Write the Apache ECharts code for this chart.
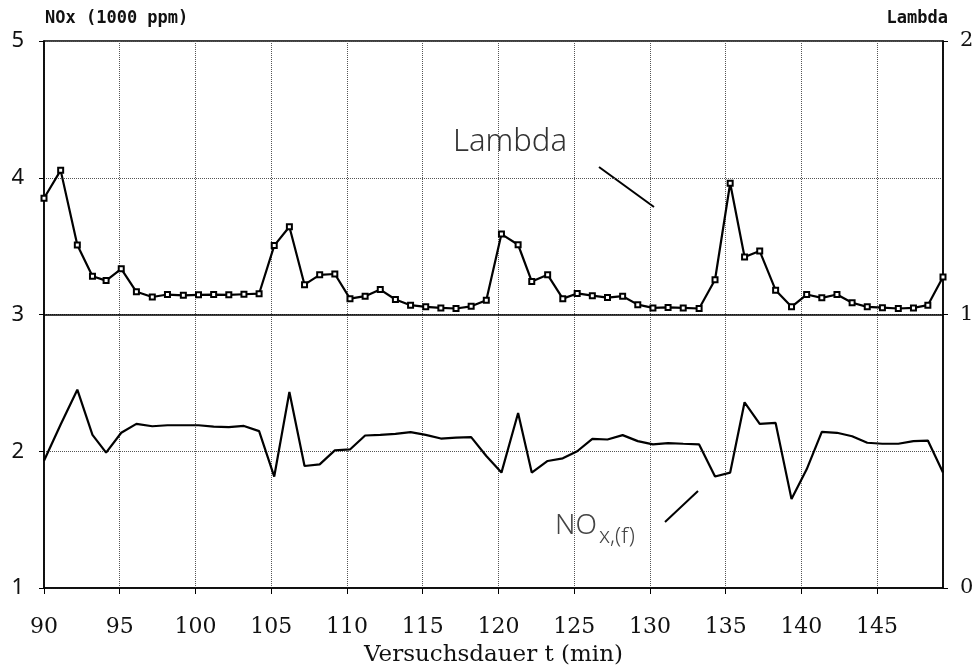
<!DOCTYPE html>
<html>
  <head>
    <meta charset="utf-8" />
    <title>NOx und Lambda</title>
    <style>
      body { margin: 0; background: #fff; }
    </style>
  </head>
  <body>
    <div id="main" style="width: 978px; height: 672px"></div>
    <script src="https://cdn.jsdelivr.net/npm/echarts@6/dist/echarts.min.js"></script>
    <script>
      // Versuchsdauer in min (gemeinsame Messzeitpunkte)
      var zeit = [90, 91.1, 92.2, 93.2, 94.1, 95.1, 96.1, 97.15, 98.15, 99.2,
        100.2, 101.2, 102.2, 103.2, 104.2, 105.2, 106.2, 107.2, 108.2, 109.2,
        110.2, 111.2, 112.2, 113.2, 114.2, 115.2, 116.2, 117.2, 118.2, 119.2,
        120.2, 121.3, 122.2, 123.25, 124.25, 125.2, 126.2, 127.2, 128.2, 129.2,
        130.2, 131.2, 132.2, 133.25, 134.3, 135.3, 136.25, 137.25, 138.3, 139.35,
        140.35, 141.35, 142.35, 143.35, 144.35, 145.35, 146.4, 147.4, 148.35, 149.35];
      // Lambda (rechte Achse)
      var lambda = [1.425, 1.527, 1.254, 1.14, 1.124, 1.167, 1.083, 1.064, 1.073, 1.07,
        1.072, 1.073, 1.072, 1.074, 1.076, 1.252, 1.321, 1.109, 1.145, 1.148,
        1.058, 1.067, 1.091, 1.055, 1.034, 1.028, 1.024, 1.022, 1.03, 1.052,
        1.294, 1.255, 1.121, 1.145, 1.058, 1.077, 1.069, 1.062, 1.067, 1.036,
        1.024, 1.026, 1.024, 1.022, 1.127, 1.48, 1.21, 1.232, 1.089, 1.028,
        1.073, 1.061, 1.073, 1.043, 1.028, 1.025, 1.022, 1.024, 1.034, 1.137];
      // NOx in 1000 ppm (linke Achse)
      var nox = [1.93, 2.195, 2.45, 2.12, 1.99, 2.135, 2.2, 2.183, 2.19, 2.19,
        2.19, 2.18, 2.177, 2.185, 2.147, 1.815, 2.433, 1.892, 1.904, 2.006,
        2.013, 2.115, 2.12, 2.127, 2.14, 2.12, 2.093, 2.1, 2.103, 1.965,
        1.844, 2.28, 1.844, 1.929, 1.948, 2.0, 2.09, 2.086, 2.118, 2.074,
        2.05, 2.06, 2.055, 2.05, 1.815, 1.844, 2.358, 2.2, 2.207, 1.65,
        1.868, 2.142, 2.135, 2.11, 2.062, 2.055, 2.055, 2.074, 2.078, 1.844];

      function paare(xs, ys) {
        var out = [];
        for (var i = 0; i < xs.length; i++) out.push([xs[i], ys[i]]);
        return out;
      }

      var myChart = echarts.init(document.getElementById("main"));
      var gitter = { show: true, lineStyle: { color: "#555", type: "dotted", width: 1 } };
      var option = {
        animation: false,
        backgroundColor: "#fff",
        grid: { left: 44, right: 35, top: 41, bottom: 81, show: true, borderColor: "#000", borderWidth: 1.5 },
        xAxis: {
          type: "value",
          min: 90,
          max: 149.35,
          interval: 5,
          axisLine: { lineStyle: { color: "#000", width: 1.5 } },
          axisTick: { length: 6, lineStyle: { color: "#000" } },
          splitLine: gitter,
          axisLabel: { showMaxLabel: false, margin: 28, color: "#111", fontFamily: "DejaVu Serif", fontSize: 22 },
          name: "Versuchsdauer t (min)",
          nameLocation: "middle",
          nameGap: 56,
          nameTextStyle: { color: "#111", fontFamily: "DejaVu Serif", fontSize: 23 }
        },
        yAxis: [
          {
            type: "value",
            min: 1,
            max: 5,
            interval: 1,
            axisLine: { show: true, lineStyle: { color: "#000", width: 1.5 } },
            axisTick: { show: true, length: 5, lineStyle: { color: "#000" } },
            splitLine: gitter,
            axisLabel: { margin: 20, color: "#111", fontFamily: "Noto Sans", fontSize: 22 }
          },
          {
            type: "value",
            min: 0,
            max: 2,
            interval: 1,
            axisLine: { show: true, lineStyle: { color: "#000", width: 1.5 } },
            axisTick: { show: true, length: 5, lineStyle: { color: "#000" } },
            splitLine: { show: false },
            axisLabel: { margin: 17, color: "#111", fontFamily: "DejaVu Serif", fontSize: 21 }
          }
        ],
        series: [
          {
            name: "Lambda",
            type: "line",
            yAxisIndex: 1,
            data: paare(zeit, lambda),
            symbol: "emptyRect",
            symbolSize: 5,
            itemStyle: { color: "#000", borderWidth: 1 },
            lineStyle: { color: "#000", width: 2.2 }
          },
          {
            name: "NOx",
            type: "line",
            yAxisIndex: 0,
            data: paare(zeit, nox),
            showSymbol: false,
            lineStyle: { color: "#000", width: 2.2 },
            markLine: {
              silent: true,
              symbol: "none",
              label: { show: false },
              lineStyle: { color: "#000", type: "solid", width: 1.5 },
              data: [{ yAxis: 3 }]
            }
          }
        ],
        graphic: [
          { type: "text", left: 45, top: 10, style: { text: "NOx (1000 ppm)", fill: "#111", font: "bold 17px 'DejaVu Sans Mono'" } },
          { type: "text", right: 30, top: 10, style: { text: "Lambda", fill: "#111", font: "bold 17px 'DejaVu Sans Mono'" } },
          { type: "text", left: 453, top: 127, style: { text: "Lambda", fill: "#333", font: "300 31px 'Noto Sans'" } },
          { type: "line", shape: { x1: 599, y1: 167, x2: 654, y2: 207 }, style: { stroke: "#000", lineWidth: 2 } },
          { type: "text", left: 555, top: 512, style: { text: "NO", fill: "#444", font: "300 28px 'Noto Sans'" } },
          { type: "text", left: 599, top: 526, style: { text: "x,(f)", fill: "#444", font: "300 22px 'Noto Sans'" } },
          { type: "line", shape: { x1: 665, y1: 522, x2: 698, y2: 491 }, style: { stroke: "#000", lineWidth: 2 } }
        ]
      };
      myChart.setOption(option);
    </script>
  </body>
</html>
